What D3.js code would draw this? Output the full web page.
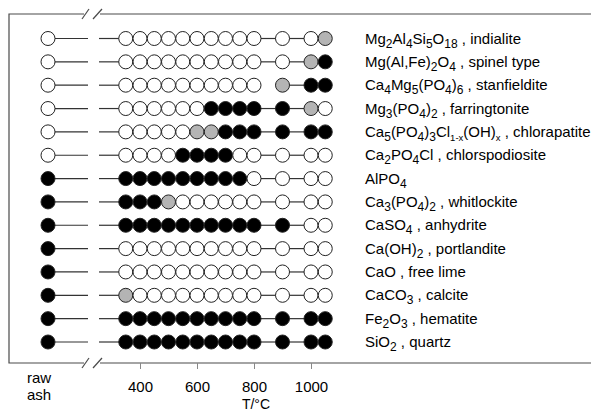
<!DOCTYPE html>
<html>
<head>
<meta charset="utf-8">
<script src="https://cdn.jsdelivr.net/npm/d3@7"></script>
<style>
  html, body { margin: 0; padding: 0; background: #fff; }
  svg { display: block; font-family: Arial, "Liberation Sans", sans-serif; }
</style>
</head>
<body>
<svg id="chart" width="591" height="412"></svg>
<script>
// Annealing temperatures (°C) at which each phase was checked
const temps = [350, 400, 450, 500, 550, 600, 650, 700, 750, 800, 900, 1000, 1050];
const tickValues = [400, 600, 800, 1000];

// Phase labels, top to bottom. _{..} = subscript, _[..] = small subscript
const phases = [
  "Mg_{2}Al_{4}Si_{5}O_{18} , indialite",
  "Mg(Al,Fe)_{2}O_{4} , spinel type",
  "Ca_{4}Mg_{5}(PO_{4})_{6} , stanfieldite",
  "Mg_{3}(PO_{4})_{2} , farringtonite",
  "Ca_{5}(PO_{4})_{3}Cl_[1-x](OH)_[x] , chlorapatite",
  "Ca_{2}PO_{4}Cl , chlorspodiosite",
  "AlPO_{4}",
  "Ca_{3}(PO_{4})_{2} , whitlockite",
  "CaSO_{4} , anhydrite",
  "Ca(OH)_{2} , portlandite",
  "CaO , free lime",
  "CaCO_{3} , calcite",
  "Fe_{2}O_{3} , hematite",
  "SiO_{2} , quartz"
];

// 0 = not detected, 1 = traces, 2 = detected
const rawAsh = [0, 0, 0, 0, 0, 0, 2, 2, 2, 2, 2, 2, 2, 2];
const detection = [
  [0,0,0,0,0,0,0,0,0,0, 0,0,1],
  [0,0,0,0,0,0,0,0,0,0, 0,1,2],
  [0,0,0,0,0,0,0,0,0,0, 1,2,2],
  [0,0,0,0,0,0,2,2,2,2, 2,1,0],
  [0,0,0,0,0,1,1,2,2,2, 2,2,2],
  [0,0,0,0,2,2,2,2,0,0, 0,0,0],
  [2,2,2,2,2,2,2,2,2,0, 0,0,0],
  [2,2,2,1,0,0,0,0,0,0, 0,0,0],
  [2,2,2,2,2,2,2,2,2,2, 2,0,0],
  [0,0,0,0,0,0,0,0,0,0, 0,0,0],
  [0,0,0,0,0,0,0,0,0,0, 0,0,0],
  [1,0,0,0,0,0,0,0,0,0, 0,0,0],
  [2,2,2,2,2,2,2,2,2,2, 2,2,2],
  [2,2,2,2,2,2,2,2,2,2, 2,2,2]
];
// connecting segments left out (row index, from, to)
const unlinked = [{ row: 2, from: 800, to: 900 }];

const fills = ["#ffffff", "#b4b4b4", "#000000"];

const svg = d3.select("#chart");

const frame = { left: 9, top: 14, bottom: 363, right: 591 };
const breakX = [84, 100];
const rawX = 48;
const x = d3.scaleLinear().domain([400, 1000]).range([140, 311]);
const y = d3.scalePoint().domain(d3.range(phases.length)).range([38.5, 342]);
const r = 7;

const frameColor = "#4a4a4a";

// frame with axis break
const fg = svg.append("g").attr("fill", "none").attr("stroke", frameColor).attr("stroke-width", 1.2);
fg.append("path").attr("d",
  `M${breakX[0]},${frame.top}H${frame.left}V${frame.bottom}H${breakX[0]}`);
fg.append("path").attr("d", `M${breakX[1]},${frame.top}H${frame.right}`);
fg.append("path").attr("d", `M${breakX[1]},${frame.bottom}H${frame.right}`);
[frame.top, frame.bottom].forEach(yy => {
  fg.append("path").attr("d", `M${breakX[0] - 2},${yy + 5}L${breakX[0] + 5},${yy - 5}`);
  fg.append("path").attr("d", `M${breakX[1] - 7},${yy + 5}L${breakX[1] + 2},${yy - 5}`);
});

// bottom axis
const axis = d3.axisBottom(x).tickValues(tickValues).tickSize(6).tickPadding(12).tickFormat(d3.format("d"));
const ax = svg.append("g").attr("transform", `translate(0,${frame.bottom})`).call(axis);
ax.select(".domain").remove();
ax.selectAll(".tick line").attr("stroke", "#888");
ax.selectAll(".tick text").attr("font-size", 15).attr("fill", "#000")
  .attr("font-family", "Arial, 'Liberation Sans', sans-serif");

svg.append("text").attr("x", 27).attr("y", 383).attr("font-size", 15).text("raw");
svg.append("text").attr("x", 27).attr("y", 400).attr("font-size", 15).text("ash");
svg.append("text").attr("x", 256).attr("y", 409).attr("font-size", 14)
  .attr("text-anchor", "middle").text("T/°C");

// rows
const rows = svg.append("g");
phases.forEach((label, i) => {
  const g = rows.append("g").attr("transform", `translate(0,${y(i)})`);
  const lineColor = "#333";
  g.append("line").attr("x1", rawX).attr("x2", breakX[0] + 4).attr("stroke", lineColor).attr("stroke-width", 1.2);
  // segments between consecutive measurements on the temperature scale
  const pts = [breakX[0] + 15, ...temps.map(t => x(t))];
  const tvals = [null, ...temps];
  for (let k = 0; k < pts.length - 1; k++) {
    const skip = unlinked.some(u => u.row === i && u.from === tvals[k] && u.to === tvals[k + 1]);
    if (skip) continue;
    g.append("line").attr("x1", pts[k]).attr("x2", pts[k + 1])
      .attr("stroke", lineColor).attr("stroke-width", 1.2);
  }
  g.append("circle").attr("cx", rawX).attr("r", r)
    .attr("fill", fills[rawAsh[i]]).attr("stroke", "#222").attr("stroke-width", 1);
  g.selectAll("circle.m").data(detection[i]).join("circle").attr("class", "m")
    .attr("cx", (d, k) => x(temps[k])).attr("r", r)
    .attr("fill", d => fills[d]).attr("stroke", "#222").attr("stroke-width", 1);

  // label with chemical subscripts
  const t = g.append("text").attr("x", 365).attr("y", 5).attr("font-size", 15).attr("fill", "#000");
  const re = /_\{([^}]*)\}|_\[([^\]]*)\]/g;
  let last = 0, m;
  let lowered = false;
  const pushText = (s) => {
    if (!s) return;
    const ts = t.append("tspan").text(s);
    if (lowered) { ts.attr("dy", -4); lowered = false; }
  };
  while ((m = re.exec(label)) !== null) {
    pushText(label.slice(last, m.index));
    const sub = m[1] !== undefined ? m[1] : m[2];
    const size = m[1] !== undefined ? 12 : 9.5;
    const ts = t.append("tspan").attr("font-size", size).text(sub);
    ts.attr("dy", lowered ? 0 : 4);
    lowered = true;
    last = re.lastIndex;
  }
  pushText(label.slice(last));
});
</script>
</body>
</html>
